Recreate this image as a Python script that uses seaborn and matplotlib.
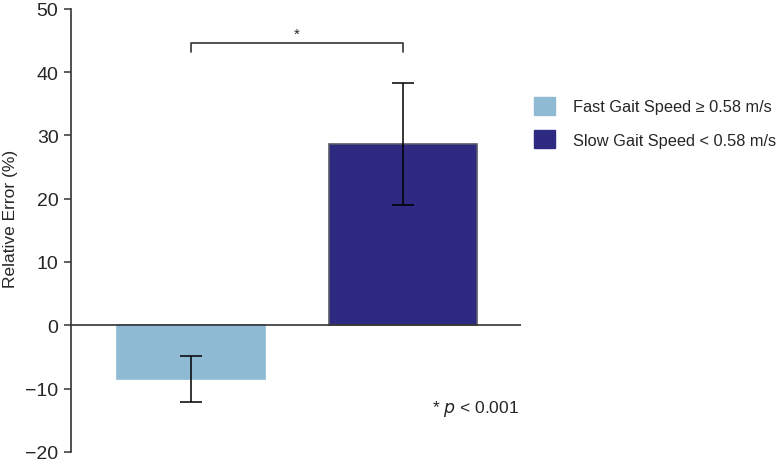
import matplotlib
matplotlib.use("Agg")
import matplotlib.pyplot as plt
import seaborn as sns
import pandas as pd

sns.set_theme(style="white")
plt.rcParams['font.family'] = ['Liberation Sans', 'DejaVu Sans']

# data
groups = ['Fast Gait Speed \u2265 0.58 m/s', 'Slow Gait Speed < 0.58 m/s']
means = [-8.5, 28.6]
errors = [3.7, 9.6]
colors = ['#8EBAD3', '#2E2A81']
bracket_y = 44.6
p_text = '* $\\it{p}$ < 0.001'

df = pd.DataFrame({'group': groups, 'error': means})

fig = plt.figure(figsize=(7.8, 4.64), dpi=100)
ax = fig.add_axes([0.091, 0.024, 0.577, 0.955])

sns.barplot(data=df, x='group', y='error', hue='group', palette=colors,
            width=0.70, errorbar=None, legend=False, ax=ax, saturation=1)
for patch, ec in zip(ax.patches, ['#8EBAD3', '#5a5a6a']):
    patch.set_edgecolor(ec)
    patch.set_linewidth(1.2)

ax.errorbar(range(len(means)), means, yerr=errors, fmt='none', ecolor='black',
            elinewidth=1.1, capsize=8, capthick=1.1, zorder=5)

ax.axhline(0, color='#333333', linewidth=1.2, zorder=4)

# significance bracket
ax.plot([0, 0, 1, 1], [bracket_y - 1.4, bracket_y, bracket_y, bracket_y - 1.4],
        color='#333333', linewidth=1.2)
ax.text(0.5, bracket_y + 0.4, '*', ha='center', va='bottom', fontsize=11)

ax.text(1.55, -13.0, p_text, ha='right', va='center', fontsize=12.5)

ax.set_xlim(-0.566, 1.557)
ax.set_ylim(-20, 50)
ax.set_yticks(range(-20, 51, 10))
ax.set_yticklabels([f'\u2212{abs(v)}' if v < 0 else str(v) for v in range(-20, 51, 10)])
ax.set_xticks([])
ax.set_xlabel('')
ax.set_ylabel('Relative Error (%)', fontsize=12.5)
ax.yaxis.set_label_coords(-0.117, 0.528)
ax.tick_params(axis='y', direction='out', length=5, width=1.1, color='#333333',
               labelsize=14, left=True, pad=4)
for side in ['top', 'right', 'bottom']:
    ax.spines[side].set_visible(False)
ax.spines['left'].set_color('#333333')
ax.spines['left'].set_linewidth(1.2)

handles = [plt.Rectangle((0, 0), 1, 1, facecolor=c, edgecolor=c) for c in colors]
fig.legend(handles, groups, loc='upper left', bbox_to_anchor=(534 / 780, 1 - 98 / 464),
           frameon=False, fontsize=11.8, handlelength=1.3, handleheight=1.3,
           handletextpad=1.1, labelspacing=0.95, borderpad=0, borderaxespad=0)

fig.savefig('out.png', dpi=100)
